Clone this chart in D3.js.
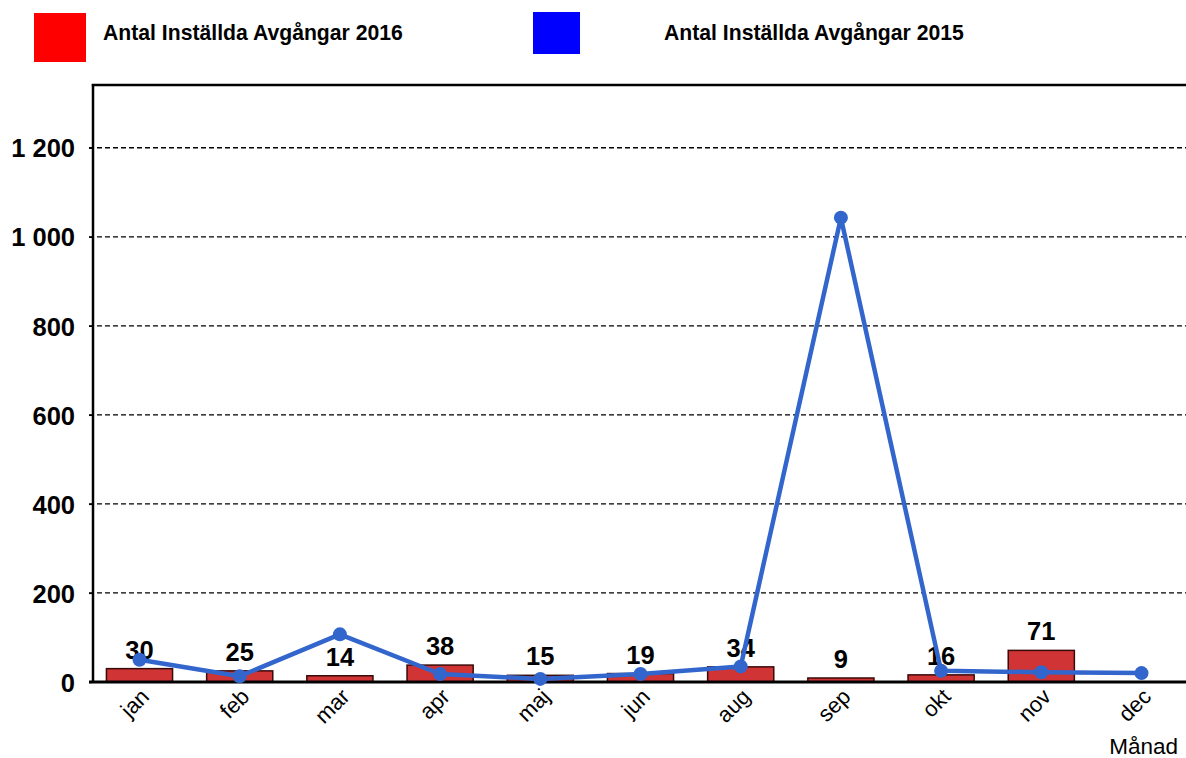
<!DOCTYPE html>
<html>
<head>
<meta charset="utf-8">
<script src="https://cdn.jsdelivr.net/npm/d3@7"></script>
<style>
  html, body { margin: 0; padding: 0; background: #fff; }
  svg { display: block; font-family: "Liberation Sans", Arial, sans-serif; }
</style>
</head>
<body>
<svg id="chart" width="1186" height="758"></svg>
<script>
const months = ["jan", "feb", "mar", "apr", "maj", "jun", "aug", "sep", "okt", "nov", "dec"];
const values2016 = [30, 25, 14, 38, 15, 19, 34, 9, 16, 71, null];
const values2015 = [50, 13, 107, 18, 7, 18, 35, 1043, 25, 22, 20];
const yTicks = [0, 200, 400, 600, 800, 1000, 1200];
const legendLabels = ["Antal Inställda Avgångar 2016", "Antal Inställda Avgångar 2015"];
const axisTitle = "Månad";

const plotLeft = 93, plotTop = 85, plotBottom = 682, plotRight = 1186;

const svg = d3.select("#chart");

const x = d3.scaleBand().domain(months).range([89.4, 1191.6]).paddingInner(0.34).paddingOuter(0.17);
const y = d3.scaleLinear().domain([0, 1341]).range([plotBottom, plotTop]);

// gridlines
svg.append("g")
  .selectAll("line")
  .data(yTicks.filter(d => d > 0))
  .join("line")
  .attr("x1", 89).attr("x2", plotRight)
  .attr("y1", d => y(d)).attr("y2", d => y(d))
  .attr("stroke", "#000").attr("stroke-width", 1.3)
  .attr("stroke-dasharray", "5,3");

// y axis via d3.axisLeft
const yAxis = d3.axisLeft(y)
  .tickValues(yTicks)
  .tickSize(4)
  .tickPadding(14)
  .tickFormat(d => d3.format(",")(d).replace(/,/g, " "));
const gy = svg.append("g").attr("transform", `translate(${plotLeft},0)`).call(yAxis);
gy.select(".domain").remove();
gy.selectAll(".tick line").attr("stroke", "#000").attr("stroke-width", 1.3);
gy.selectAll(".tick text")
  .attr("fill", "#000")
  .style("font-size", "25.5px")
  .style("font-weight", "bold")
  .style("font-family", "'Liberation Sans', Arial, sans-serif")
  .attr("dy", "0.36em");

const barData = months.map((m, i) => ({ m, v: values2016[i] })).filter(d => d.v != null);

// bars
svg.append("g")
  .selectAll("rect")
  .data(barData)
  .join("rect")
  .attr("x", d => x(d.m))
  .attr("width", x.bandwidth())
  .attr("y", d => y(d.v))
  .attr("height", d => y(0) - y(d.v))
  .attr("fill", "#D03434")
  .attr("stroke", "#3a0a0a")
  .attr("stroke-width", 1.5);

// bar labels
svg.append("g")
  .selectAll("text")
  .data(barData)
  .join("text")
  .attr("x", d => x(d.m) + x.bandwidth() / 2)
  .attr("y", d => y(d.v) - 10)
  .attr("text-anchor", "middle")
  .style("font-size", "25.5px")
  .style("font-weight", "bold")
  .attr("fill", "#000")
  .text(d => d.v);

// axes frame
svg.append("line").attr("x1", plotLeft).attr("x2", plotLeft).attr("y1", plotTop - 1).attr("y2", plotBottom)
  .attr("stroke", "#000").attr("stroke-width", 2.5);
svg.append("line").attr("x1", plotLeft - 1.2).attr("x2", plotRight).attr("y1", plotTop).attr("y2", plotTop)
  .attr("stroke", "#000").attr("stroke-width", 2.5);
svg.append("line").attr("x1", 89).attr("x2", plotRight).attr("y1", y(0)).attr("y2", y(0))
  .attr("stroke", "#000").attr("stroke-width", 3);

// line 2015
const cx = m => x(m) + x.bandwidth() / 2;
const pts = months.map((m, i) => ({ m, v: values2015[i] }));
svg.append("path")
  .datum(pts)
  .attr("d", d3.line().x(d => cx(d.m)).y(d => y(d.v)))
  .attr("fill", "none")
  .attr("stroke", "#3366CC")
  .attr("stroke-width", 4.5)
  .attr("stroke-linejoin", "round");
svg.append("g")
  .selectAll("circle")
  .data(pts)
  .join("circle")
  .attr("cx", d => cx(d.m))
  .attr("cy", d => y(d.v))
  .attr("r", 7)
  .attr("fill", "#3366CC");

// month labels
svg.append("g")
  .selectAll("text")
  .data(months)
  .join("text")
  .attr("transform", d => `translate(${cx(d) + 11},698) rotate(-45)`)
  .attr("text-anchor", "end")
  .style("font-size", "22px")
  .attr("fill", "#000")
  .text(d => d);

// axis title
svg.append("text")
  .attr("x", 1178).attr("y", 754)
  .attr("text-anchor", "end")
  .style("font-size", "22.5px")
  .attr("fill", "#000")
  .text(axisTitle);

// legend
const legend = [
  { label: legendLabels[0], color: "#FF0000", sx: 34, sy: 13, sw: 52, sh: 49, tx: 103 },
  { label: legendLabels[1], color: "#0000FF", sx: 533, sy: 12, sw: 47, sh: 42, tx: 664 }
];
const lg = svg.append("g");
lg.selectAll("rect").data(legend).join("rect")
  .attr("x", d => d.sx).attr("y", d => d.sy)
  .attr("width", d => d.sw).attr("height", d => d.sh)
  .attr("fill", d => d.color);
lg.selectAll("text").data(legend).join("text")
  .attr("x", d => d.tx).attr("y", 39.5)
  .style("font-size", "21.2px")
  .style("font-weight", "bold")
  .attr("fill", "#000")
  .text(d => d.label);
</script>
</body>
</html>
